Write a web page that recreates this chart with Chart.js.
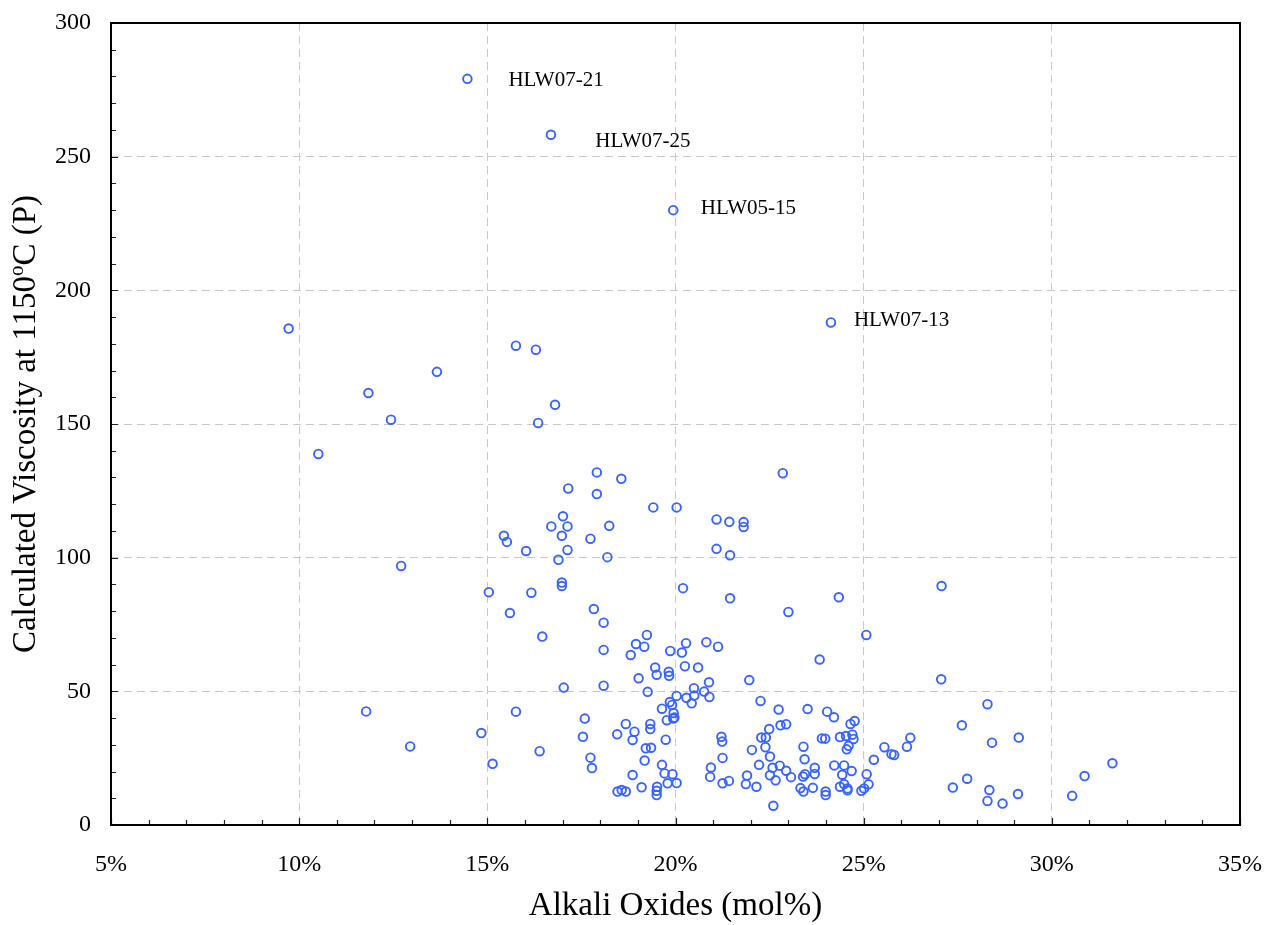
<!DOCTYPE html>
<html>
<head>
<meta charset="utf-8">
<title>Calculated Viscosity vs Alkali Oxides</title>
<script src="https://cdn.jsdelivr.net/npm/chart.js@4.4.1/dist/chart.umd.min.js"></script>
<style>
  html, body { margin: 0; padding: 0; background: #fff; }
  #scatter { display: block; }
</style>
</head>
<body>
<canvas id="scatter" width="1265" height="925"></canvas>
<script>
// alkali oxides (mol%) and calculated viscosity at 1150 C (P), one entry per glass
const alkali = [
    14.47, 16.69, 19.94, 24.13, 9.72, 15.76, 16.29, 13.66, 16.80, 11.84,
    12.44, 16.35, 10.51, 17.15, 17.01, 16.70, 17.13, 16.98, 15.44, 15.52,
    16.03, 17.13, 16.89, 17.74, 12.71, 16.98, 16.98, 15.04, 16.17, 15.60,
    16.46, 17.83, 17.91, 18.56, 17.91, 19.41, 20.03, 22.85, 18.24, 21.09,
    21.43, 21.81, 21.81, 21.09, 21.45, 18.19, 20.20, 21.45, 23.00, 18.09,
    19.24, 24.34, 27.07, 25.07, 17.03, 15.76, 17.59, 14.84, 17.54, 12.95,
    16.39, 15.14, 17.74, 17.78, 11.78, 18.09, 18.95, 19.17, 18.81, 19.86,
    20.17, 20.28, 20.82, 21.13, 19.46, 19.50, 19.82, 19.83, 20.25, 20.60,
    19.02, 18.09, 19.26, 21.96, 20.89, 20.49, 20.76, 20.90, 20.03, 20.29,
    20.50, 20.43, 19.85, 19.91, 19.64, 19.95, 19.97, 19.94, 19.77, 22.26,
    22.74, 18.68, 19.33, 19.33, 18.45, 18.91, 18.86, 19.74, 19.21, 19.35,
    19.18, 19.64, 18.86, 19.71, 19.92, 19.10, 18.46, 18.57, 18.68, 19.51,
    19.50, 19.50, 19.79, 20.03, 21.22, 21.24, 21.25, 20.94, 20.92, 21.25,
    21.42, 22.03, 21.90, 21.87, 22.15, 22.22, 22.28, 22.40, 22.39, 22.49,
    22.51, 22.79, 22.94, 22.58, 22.77, 22.94, 22.51, 22.66, 23.07, 22.60,
    23.83, 27.06, 28.29, 27.61, 28.41, 23.51, 24.03, 24.21, 24.65, 24.76,
    23.89, 23.98, 24.37, 24.53, 24.70, 24.73, 24.60, 24.55, 23.40, 23.43,
    23.70, 23.70, 23.44, 23.39, 23.32, 23.40, 23.65, 23.99, 23.99, 24.22,
    24.48, 24.43, 24.68, 24.37, 24.48, 24.57, 24.57, 24.94, 25.01, 25.13,
    25.08, 25.27, 25.55, 25.74, 25.81, 26.15, 26.24, 27.37, 27.75, 28.34,
    28.29, 28.69, 29.12, 29.10, 30.54, 30.87, 31.61
];
const viscosity = [
    279.1, 258.2, 230.0, 188.0, 185.7, 179.3, 177.8, 169.5, 157.2, 161.6,
    151.6, 150.4, 138.8, 125.9, 115.5, 111.7, 111.7, 108.2, 108.2, 105.9,
    102.5, 102.9, 99.2, 107.1, 96.9, 90.7, 89.4, 87.1, 86.9, 79.3,
    70.5, 80.8, 131.9, 129.5, 123.8, 118.8, 118.8, 131.6, 111.9, 114.3,
    113.4, 113.3, 111.5, 103.3, 100.9, 100.2, 88.6, 84.8, 79.7, 75.7,
    71.1, 85.2, 89.4, 71.1, 51.4, 42.4, 39.8, 34.4, 33.0, 29.4,
    27.6, 22.9, 25.2, 21.3, 42.5, 65.5, 67.7, 66.7, 63.6, 65.1,
    64.5, 68.0, 68.4, 66.7, 58.9, 56.2, 57.3, 55.8, 59.4, 58.9,
    54.9, 52.1, 49.8, 54.2, 53.4, 51.2, 49.9, 47.9, 48.3, 47.6,
    48.4, 45.5, 46.0, 44.9, 43.5, 41.9, 40.2, 39.8, 39.2, 46.4,
    43.2, 37.8, 37.8, 35.9, 33.9, 34.9, 31.8, 31.9, 28.7, 28.9,
    24.1, 22.5, 18.7, 19.3, 19.0, 14.1, 12.5, 13.1, 12.5, 14.3,
    12.8, 11.2, 15.6, 15.7, 33.0, 31.2, 25.1, 21.5, 18.0, 15.6,
    16.5, 28.1, 18.5, 15.3, 14.3, 22.5, 32.7, 32.7, 29.1, 35.9,
    25.6, 37.3, 37.7, 21.4, 22.2, 20.3, 18.6, 16.7, 17.9, 7.2,
    61.9, 54.5, 45.2, 37.3, 30.8, 43.4, 42.4, 40.3, 37.8, 38.9,
    32.4, 32.3, 32.9, 33.3, 33.8, 32.2, 29.6, 28.3, 29.3, 24.6,
    21.4, 19.1, 19.0, 18.1, 13.8, 12.5, 13.9, 12.5, 11.2, 22.3,
    22.3, 18.8, 20.2, 14.3, 15.3, 13.7, 13.0, 12.8, 13.7, 15.2,
    19.0, 24.4, 29.1, 26.5, 26.2, 29.3, 32.6, 14.0, 17.3, 13.1,
    9.0, 8.0, 32.7, 11.6, 10.9, 18.3, 23.1
];

// named glasses and where their tags sit (data units, left/middle of the text)
const tagNames = ['HLW07-21', 'HLW07-25', 'HLW05-15', 'HLW07-13'];
const tagX = [15.56, 17.87, 20.67, 24.74];
const tagY = [278.6, 255.7, 230.8, 188.6];

const serif = '"Liberation Serif", "Times New Roman", Times, serif';
Chart.defaults.font.family = serif;
Chart.defaults.color = '#000';

const points = alkali.map((a, i) => ({ x: a, y: viscosity[i] }));

// fixed axis footprint so the plot area lands where layout.padding puts it
function pinAxis(size) {
    return s => {
        if (s.isHorizontal()) s.height = size; else s.width = size;
        s.paddingTop = s.paddingBottom = s.paddingLeft = s.paddingRight = 0;
    };
}

// box, inward tick marks, tags and axis titles
const frame = {
    id: 'frame',
    afterDatasetsDraw(chart) {
        const { ctx, chartArea: a, scales: { x, y } } = chart;
        ctx.save();

        ctx.strokeStyle = '#222';
        ctx.lineWidth = 1.2;
        ctx.beginPath();
        for (let v = 5; v <= 35; v += 1) {
            const px = Math.round(x.getPixelForValue(v)) + 0.5;
            const len = v % 5 === 0 ? 7 : 5;
            ctx.moveTo(px, a.bottom);
            ctx.lineTo(px, a.bottom - len);
        }
        for (let v = 0; v <= 300; v += 10) {
            const py = Math.round(y.getPixelForValue(v)) + 0.5;
            const len = v % 50 === 0 ? 7 : 5;
            ctx.moveTo(a.left, py);
            ctx.lineTo(a.left + len, py);
        }
        ctx.stroke();

        ctx.strokeStyle = '#000';
        ctx.lineWidth = 2;
        ctx.strokeRect(a.left, a.top, a.right - a.left, a.bottom - a.top);

        ctx.fillStyle = '#000';
        ctx.font = '21px ' + serif;
        ctx.textAlign = 'left';
        ctx.textBaseline = 'middle';
        tagNames.forEach((t, i) => {
            ctx.fillText(t, x.getPixelForValue(tagX[i]), y.getPixelForValue(tagY[i]));
        });

        // x title
        ctx.font = '33px ' + serif;
        ctx.textAlign = 'center';
        ctx.textBaseline = 'alphabetic';
        ctx.fillText('Alkali Oxides (mol%)', (a.left + a.right) / 2, 915);

        // y title with superscript degree "o"
        const big = '33px ' + serif, small = '21px ' + serif;
        const parts = [['Calculated Viscosity at 1150', big, 0], ['o', small, -12], ['C (P)', big, 0]];
        ctx.translate(24, (a.top + a.bottom) / 2);
        ctx.rotate(-Math.PI / 2);
        ctx.textAlign = 'left';
        let total = 0;
        parts.forEach(p => { ctx.font = p[1]; total += ctx.measureText(p[0]).width; });
        let cx = -total / 2;
        parts.forEach(p => {
            ctx.font = p[1];
            ctx.fillText(p[0], cx, 11 + p[2]);
            cx += ctx.measureText(p[0]).width;
        });

        ctx.restore();
    }
};

new Chart(document.getElementById('scatter'), {
    type: 'scatter',
    data: {
        datasets: [{
            label: 'Viscosity',
            data: points,
            pointStyle: 'circle',
            pointRadius: 4.3,
            pointBorderWidth: 1.9,
            borderColor: 'rgb(55, 100, 255)',
            backgroundColor: 'rgba(255, 255, 255, 0)'
        }]
    },
    options: {
        responsive: false,
        animation: false,
        layout: { padding: { top: 23, right: 25, left: 0, bottom: 0 } },
        plugins: {
            legend: { display: false },
            tooltip: { enabled: false }
        },
        scales: {
            x: {
                type: 'linear',
                min: 5,
                max: 35,
                afterFit: pinAxis(100),
                border: { display: false, dash: [8, 5] },
                grid: { color: '#c8c8c8', lineWidth: 1, drawTicks: false },
                ticks: {
                    stepSize: 5,
                    padding: 25,
                    font: { size: 24 },
                    callback: v => v + '%'
                }
            },
            y: {
                min: 0,
                max: 300,
                afterFit: pinAxis(111),
                border: { display: false, dash: [8, 5] },
                grid: { color: '#c8c8c8', lineWidth: 1, drawTicks: false },
                ticks: {
                    stepSize: 50,
                    padding: 20,
                    font: { size: 24 }
                }
            }
        }
    },
    plugins: [frame]
});
</script>
</body>
</html>
